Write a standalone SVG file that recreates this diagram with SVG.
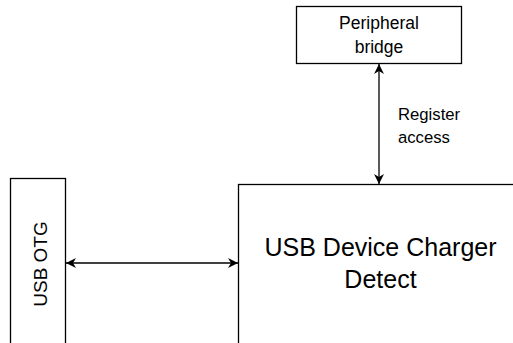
<svg xmlns="http://www.w3.org/2000/svg" width="513" height="343" viewBox="0 0 513 343">
<style>
.box{fill:#fff;stroke:#000;stroke-width:1.3}
.t{font-family:"Liberation Sans",Arial,sans-serif;fill:#000}
.c{stroke:#000;stroke-width:1.3;fill:none}
</style>
<defs>
<marker id="ah" viewBox="0 0 10 10" refX="10" refY="5" markerWidth="10" markerHeight="10" markerUnits="userSpaceOnUse" orient="auto-start-reverse">
<path d="M0,0 L10,5 L0,10 L3,5 Z" fill="#000"/>
</marker>
</defs>
<rect width="513" height="343" fill="#fff"/>
<g id="peripheral-bridge">
<rect class="box" x="296.5" y="6.5" width="165" height="57"/>
<text class="t" x="379" y="29" font-size="17.5" text-anchor="middle">Peripheral</text>
<text class="t" x="379" y="53" font-size="17.5" text-anchor="middle">bridge</text>
</g>
<g id="usb-otg">
<rect class="box" x="10.5" y="178.5" width="55" height="170"/>
<text class="t" font-size="19" text-anchor="middle" transform="translate(47,264) rotate(-90)">USB OTG</text>
</g>
<g id="usb-dcd">
<rect class="box" x="238.5" y="184.5" width="290" height="170"/>
<text class="t" x="380.5" y="256" font-size="25" text-anchor="middle">USB Device Charger</text>
<text class="t" x="380.5" y="288" font-size="25" text-anchor="middle">Detect</text>
</g>
<g id="connectors">
<line class="c" x1="379" y1="64" x2="379" y2="184" marker-start="url(#ah)" marker-end="url(#ah)"/>
<text class="t" x="398" y="120" font-size="16.7">Register</text>
<text class="t" x="398" y="143" font-size="16.7">access</text>
<line class="c" x1="66" y1="263" x2="238" y2="263" marker-start="url(#ah)" marker-end="url(#ah)"/>
</g>
</svg>
